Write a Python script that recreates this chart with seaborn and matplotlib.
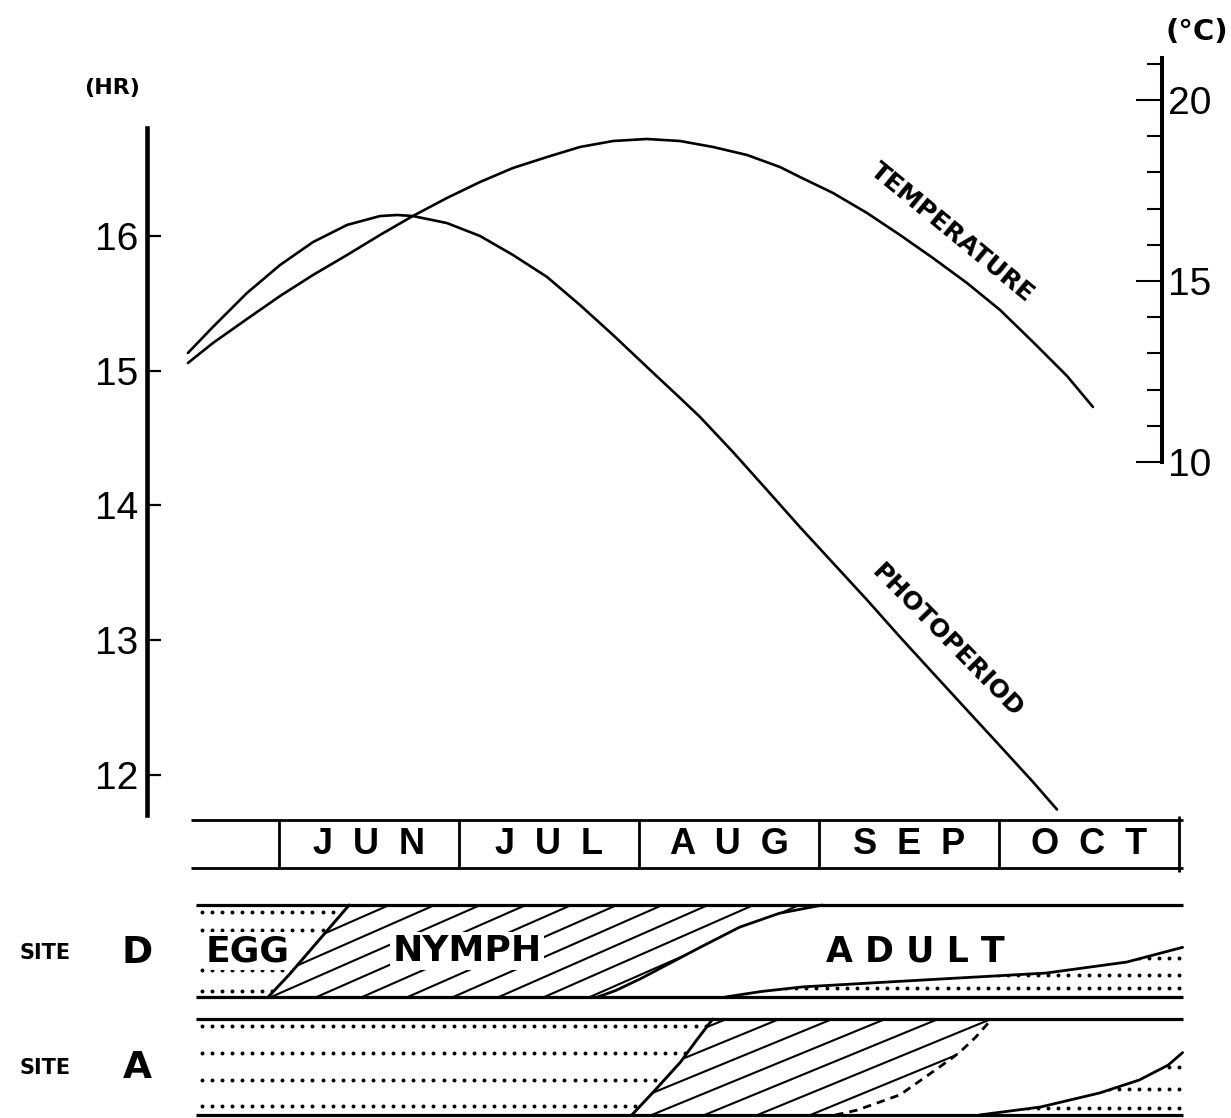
import numpy as np
import matplotlib
matplotlib.use("Agg")
import matplotlib.pyplot as plt
import seaborn as sns
from matplotlib.patches import Polygon
from matplotlib.collections import LineCollection

# ---------------- data (x in months: 6 = 1 June, 7 = 1 July, ...) ----------------
photo_month = [5.494, 5.633, 5.822, 6.006, 6.189, 6.378, 6.561, 6.656, 6.744, 6.933,
               7.117, 7.300, 7.489, 7.672, 7.856, 8.044, 8.228, 8.339, 8.522, 8.711,
               8.894, 9.078, 9.267, 9.450, 9.633, 9.822, 10.006, 10.189, 10.322]
photo_hr = [15.132, 15.325, 15.577, 15.785, 15.955, 16.082, 16.148, 16.156, 16.148, 16.096,
            16.000, 15.859, 15.696, 15.488, 15.265, 15.028, 14.798, 14.657, 14.397, 14.115,
            13.840, 13.573, 13.299, 13.024, 12.757, 12.482, 12.215, 11.948, 11.744]

temp_month = [5.494, 5.633, 5.822, 6.006, 6.189, 6.378, 6.561, 6.744, 6.933, 7.117,
              7.300, 7.489, 7.672, 7.856, 8.044, 8.228, 8.411, 8.600, 8.783, 8.894,
              9.078, 9.267, 9.450, 9.633, 9.822, 10.006, 10.189, 10.378, 10.522]
temp_c = [12.735, 13.287, 13.950, 14.586, 15.166, 15.718, 16.271, 16.796, 17.293, 17.735,
          18.122, 18.425, 18.702, 18.867, 18.923, 18.867, 18.702, 18.481, 18.149, 17.873,
          17.431, 16.878, 16.271, 15.635, 14.945, 14.199, 13.315, 12.376, 11.519]

hr_ticks = [12, 13, 14, 15, 16]
c_major = [10, 15, 20]
c_minor = [11, 12, 13, 14, 16, 17, 18, 19, 21]

month_starts = [6, 7, 8, 9, 10, 11]
month_labels = ["JUN", "JUL", "AUG", "SEP", "OCT"]

season_start = 5.54
season_end = 11.02

# Site D: cumulative fraction of population (0 bottom .. 1 top)
d_hatch_month = [5.94, 6.06, 6.17, 6.28, 6.39]
d_hatch_frac = [0.0, 0.25, 0.50, 0.75, 1.0]
d_adult_month = [7.77, 7.87, 8.01, 8.34, 8.56, 8.78, 9.02]
d_adult_frac = [0.0, 0.07, 0.20, 0.54, 0.76, 0.91, 1.0]
d_egg2_month = [8.48, 8.68, 8.91, 9.58, 10.26, 10.71, 11.02]
d_egg2_frac = [0.0, 0.06, 0.11, 0.185, 0.26, 0.38, 0.54]

# Site A
a_hatch_month = [7.96, 8.08, 8.23, 8.32, 8.41]
a_hatch_frac = [0.0, 0.24, 0.55, 0.78, 1.0]
a_adult_month = [9.09, 9.21, 9.45, 9.67, 9.78, 9.87, 9.96]
a_adult_frac = [0.0, 0.05, 0.21, 0.50, 0.65, 0.81, 1.0]
a_egg2_month = [9.89, 10.23, 10.56, 10.78, 10.94, 11.02]
a_egg2_frac = [0.0, 0.083, 0.23, 0.365, 0.52, 0.65]

# ---------------- style ----------------
sns.set_theme(style="white")
plt.rcParams["font.family"] = ["DejaVu Sans"]
for key in ("text.color", "axes.labelcolor", "xtick.color", "ytick.color", "axes.edgecolor"):
    plt.rcParams[key] = "black"
NUMFONT = "Liberation Sans"

W, H = 1231, 1118
fig = plt.figure(figsize=(W / 100, H / 100), dpi=100)
fig.patch.set_facecolor("white")


def box(x0, y0, x1, y1):
    return [x0 / W, 1 - y1 / H, (x1 - x0) / W, (y1 - y0) / H]


def month_at(px):
    return 6 + (px - 279) / 180.0


# ---------------- main chart ----------------
ax = fig.add_axes(box(147, 58, 1162, 815))
ax.set_xlim(month_at(147), month_at(1162))
ax.set_ylim(11.703, 17.321)
ax2 = ax.twinx()
ax2.set_ylim(0.249, 21.16)
for a in (ax, ax2):
    a.patch.set_visible(False)
    a.grid(False)

sns.lineplot(x=photo_month, y=photo_hr, ax=ax, color="black", linewidth=1.9,
             sort=False, estimator=None)
sns.lineplot(x=temp_month, y=temp_c, ax=ax2, color="black", linewidth=1.9,
             sort=False, estimator=None)
for a in (ax, ax2):
    for ln in a.lines:
        ln.set_clip_on(False)
        ln.set_solid_joinstyle("round")
    a.set_xlabel("")
    a.set_ylabel("")

ax.set_xticks([])
ax.set_yticks(hr_ticks)
ax.set_yticklabels([str(t) for t in hr_ticks])
ax.tick_params(axis="y", direction="in", length=10, width=1.6, pad=6, labelsize=28,
               left=True, right=False, labelleft=True, colors="black",
               labelfontfamily=NUMFONT)
for s in ("top", "right", "bottom"):
    ax.spines[s].set_visible(False)
ax.spines["left"].set_linewidth(3.3)
ax.spines["left"].set_bounds(11.70, 16.80)

ax2.set_yticks(c_major)
ax2.set_yticklabels([str(t) for t in c_major])
ax2.set_yticks(c_minor, minor=True)
ax2.tick_params(axis="y", which="major", direction="in", length=19, width=1.5, pad=4,
                labelsize=28, right=True, colors="black", labelfontfamily=NUMFONT)
ax2.tick_params(axis="y", which="minor", direction="in", length=11, width=1.5, right=True,
                colors="black")
for s in ("top", "left", "bottom"):
    ax2.spines[s].set_visible(False)
ax2.spines["right"].set_linewidth(2.9)
ax2.spines["right"].set_bounds(10, 21.15)

fig.text(112 / W, 1 - 88 / H, "(HR)", fontsize=16, fontweight="bold", ha="center", va="center")
fig.text(1197 / W, 1 - 32 / H, "(°C)", fontsize=21, fontweight="bold", ha="center", va="center")
fig.text(952 / W, 1 - 233 / H, "TEMPERATURE", fontsize=18, fontweight="bold", rotation=-39.5,
         rotation_mode="anchor", ha="center", va="center")
fig.text(947 / W, 1 - 641 / H, "PHOTOPERIOD", fontsize=18, fontweight="bold", rotation=-45.5,
         rotation_mode="anchor", ha="center", va="center")

FX0, FX1 = month_at(0), month_at(W)

# ---------------- month bar ----------------
mb = fig.add_axes(box(0, 820, W, 868))
mb.set_xlim(FX0, FX1)
mb.set_ylim(0, 1)
mb.set_axis_off()
mb.hlines([0, 1], season_start - 0.03, season_end, color="black", lw=2.0, clip_on=False)
mb.vlines(month_starts[:-1], 0, 1, color="black", lw=2.0, clip_on=False)
mb.vlines(month_starts[-1], -0.08, 1.08, color="black", lw=2.0, clip_on=False)
for m, lab in zip(month_starts[:-1], month_labels):
    mb.text(m + 0.5, 0.5, "  ".join(lab), ha="center", va="center", fontsize=26,
            fontweight="bold", family=NUMFONT)


# ---------------- phenology bands ----------------
def draw_band(axb, hx, hf, adx, adf, ex, ef, rows1, rows2, slope, step, off0, adult_ls):
    s0, s1 = season_start, season_end
    egg1 = [(s0, 0)] + list(zip(hx, hf)) + [(s0, 1)]
    nymph = list(zip(hx, hf)) + list(zip(adx[::-1], adf[::-1]))
    egg2 = list(zip(ex, ef)) + [(s1, 0)]

    p_egg1 = Polygon(egg1, closed=True, facecolor="none", edgecolor="none")
    p_nymph = Polygon(nymph, closed=True, facecolor="none", edgecolor="none")
    p_egg2 = Polygon(egg2, closed=True, facecolor="none", edgecolor="none")
    for p in (p_egg1, p_nymph, p_egg2):
        axb.add_patch(p)

    xs = np.arange(s0 + 0.03, s1, 0.056)
    for rows, patch in ((rows1, p_egg1), (rows2, p_egg2)):
        X, Y = np.meshgrid(xs, rows)
        sc = axb.scatter(X.ravel(), Y.ravel(), s=8, color="black", linewidths=0, zorder=2)
        sc.set_clip_path(patch)

    offs = off0 + step * np.arange(-15, 30)
    segs = [[(o, 0), (o + 1.0 / slope, 1)] for o in offs]
    lc = LineCollection(segs, colors="black", linewidths=1.5, zorder=2)
    axb.add_collection(lc)
    lc.set_clip_path(p_nymph)

    axb.plot(hx, hf, color="black", lw=2.1, zorder=3, clip_on=False)
    axb.plot(adx, adf, color="black", lw=2.0, zorder=3, clip_on=False, linestyle=adult_ls)
    axb.plot(ex, ef, color="black", lw=2.0, zorder=3, clip_on=False)
    axb.hlines([0, 1], s0, s1, color="black", lw=2.3, zorder=4, clip_on=False)


bd = fig.add_axes(box(0, 905, W, 997))
bd.set_xlim(FX0, FX1)
bd.set_ylim(0, 1)
bd.set_axis_off()
draw_band(bd, d_hatch_month, d_hatch_frac, d_adult_month, d_adult_frac, d_egg2_month,
          d_egg2_frac, [0.07, 0.29, 0.73, 0.92], [0.10, 0.24, 0.42],
          slope=0.86, step=0.253, off0=5.956, adult_ls="-")

ba = fig.add_axes(box(0, 1019, W, 1115))
ba.set_xlim(FX0, FX1)
ba.set_ylim(0, 1)
ba.set_axis_off()
draw_band(ba, a_hatch_month, a_hatch_frac, a_adult_month, a_adult_frac, a_egg2_month,
          a_egg2_frac, [0.09, 0.36, 0.65, 0.93], [0.07, 0.27, 0.50],
          slope=0.77, step=0.294, off0=8.07, adult_ls=(0, (3, 2.2)))

white = dict(facecolor="white", edgecolor="none", pad=1.5)
fig.text(248 / W, 1 - 951 / H, "EGG", fontsize=26, fontweight="bold", ha="center",
         va="center", bbox=white, zorder=10)
fig.text(467 / W, 1 - 951 / H, "NYMPH", fontsize=26, fontweight="bold", ha="center",
         va="center", bbox=white, zorder=10)
fig.text(915 / W, 1 - 952 / H, "A D U L T", fontsize=25, fontweight="bold", ha="center",
         va="center")
for yy, site in ((953, "D"), (1068, "A")):
    fig.text(45 / W, 1 - yy / H, "SITE", fontsize=15, fontweight="bold", ha="center",
             va="center")
    fig.text(137 / W, 1 - yy / H, site, fontsize=27, fontweight="bold", ha="center",
             va="center")

fig.savefig("out.png", dpi=100, facecolor="white")
